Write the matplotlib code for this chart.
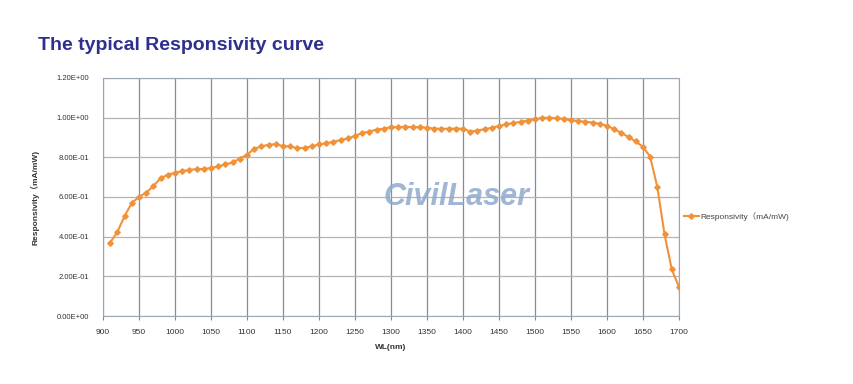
import matplotlib.pyplot as plt

plt.rcParams['font.family'] = ['Liberation Sans', 'Noto Sans CJK SC', 'DejaVu Sans']

# wavelength (nm) and responsivity (mA/mW)
wl = list(range(910, 1701, 10))
resp = [0.370, 0.424, 0.504, 0.570, 0.600, 0.622, 0.655, 0.695, 0.712, 0.722,
        0.731, 0.736, 0.741, 0.741, 0.746, 0.754, 0.764, 0.774, 0.794, 0.813,
        0.843, 0.855, 0.863, 0.866, 0.856, 0.855, 0.846, 0.848, 0.855, 0.865,
        0.871, 0.878, 0.887, 0.895, 0.908, 0.922, 0.930, 0.940, 0.944, 0.952,
        0.952, 0.954, 0.952, 0.952, 0.949, 0.945, 0.944, 0.944, 0.945, 0.944,
        0.930, 0.935, 0.942, 0.949, 0.957, 0.967, 0.972, 0.979, 0.985, 0.992,
        0.999, 0.999, 0.997, 0.994, 0.987, 0.982, 0.980, 0.975, 0.969, 0.959,
        0.942, 0.923, 0.902, 0.880, 0.853, 0.803, 0.650, 0.411, 0.236, 0.147]

xticks = list(range(900, 1701, 50))
yticks = [0.0, 0.2, 0.4, 0.6, 0.8, 1.0, 1.2]
ytick_labels = ['0.00E+00', '2.00E-01', '4.00E-01', '6.00E-01', '8.00E-01', '1.00E+00', '1.20E+00']

fig = plt.figure(figsize=(8.54, 3.84), dpi=100)
ax = fig.add_axes([0.1206, 0.177, 0.6744, 0.620])

orange = '#F0923A'
ax.plot(wl, resp, color=orange, lw=1.5, marker='D', ms=2.8, mec=orange, mfc=orange,
        label='Responsivity（mA/mW)', zorder=3)

ax.set_xlim(900, 1700)
ax.set_ylim(0, 1.2)
ax.set_xticks(xticks)
ax.set_xticklabels([str(t) for t in xticks], fontsize=6, color='#333333')
ax.set_yticks(yticks)
ax.set_yticklabels(ytick_labels, fontsize=5.5, color='#333333')
ax.tick_params(axis='x', length=3, color='#888888', pad=6)
ax.tick_params(axis='y', length=0, pad=10)

ax.xaxis.grid(True, color='#7a8fa6', lw=0.9)
ax.yaxis.grid(True, color='#b4b4b4', lw=0.9)
ax.set_axisbelow(True)
for s in ax.spines.values():
    s.set_color('#9aa6b2')
    s.set_linewidth(0.8)

ax.set_xlabel('WL(nm)', fontsize=6, fontweight='bold', color='#333333', labelpad=6)
ax.set_ylabel('Responsivity（mA/mW)', fontsize=6, fontweight='bold', color='#333333', labelpad=12)

leg = ax.legend(loc='center left', bbox_to_anchor=(0.995, 0.42), frameon=False,
                fontsize=6, handlelength=1.8, handletextpad=0.2)
for t in leg.get_texts():
    t.set_color('#444444')

# watermark
fig.text(0.534, 0.488, 'CivilLaser', fontsize=22, fontweight='heavy', style='italic',
         color='#8fa9cd', alpha=0.85, ha='center', va='center')

fig.text(0.045, 0.882, 'The typical Responsivity curve', fontsize=14, fontweight='bold',
         color='#2E2F8F', ha='left', va='center')

fig.savefig('out.png', dpi=100, facecolor='white')
